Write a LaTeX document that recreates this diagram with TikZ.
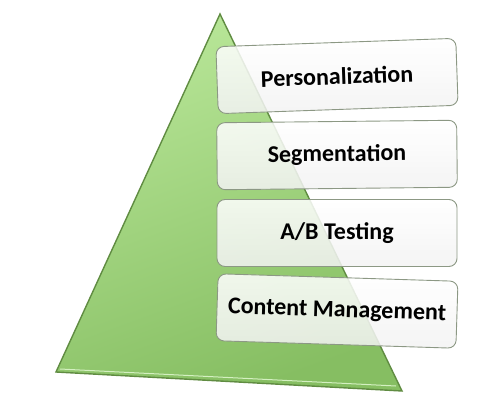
\documentclass[tikz,border=0pt]{standalone}
\usepackage{fontspec}
\setmainfont{Carlito}
\usetikzlibrary{positioning}
\definecolor{pyrlight}{RGB}{184, 230, 152}
\definecolor{pyrdark}{RGB}{134, 190, 98}
\definecolor{pyredge}{RGB}{96, 140, 66}
\definecolor{boxedge}{RGB}{140, 152, 132}

\begin{document}
\begin{tikzpicture}[x=1pt, y=-1pt, every node/.style={font=\bfseries\fontsize{24}{28}\selectfont},
    layer/.style={draw=boxedge, line width=0.9pt, rounded corners=8pt, minimum width=240pt,
                  minimum height=67pt, top color=white, bottom color=black!5, fill opacity=0.86, text opacity=1}]
                    \useasboundingbox (0,0) rectangle (480,410);
                    % pyramid
                    \draw[pyredge, line width=1.4pt, top color=pyrlight, bottom color=pyrdark, shading angle=20]
                        (220,14) -- (402,391) -- (56,372) -- cycle;
                    \draw[pyrlight!60!white, line width=1pt] (60,369) -- (396,386);
                    % layers
                    \node[layer, rotate=2] (perso) at (337,76) {Personalization};
                    \node[layer, rotate=0.6] (segm) at (337,155) {Segmentation};
                    \node[layer] (abtest) at (337,233) {A/B Testing};
                    \node[layer, rotate=-1.8] (content) at (337,311) {Content Management};
                \end{tikzpicture}
\end{document}
